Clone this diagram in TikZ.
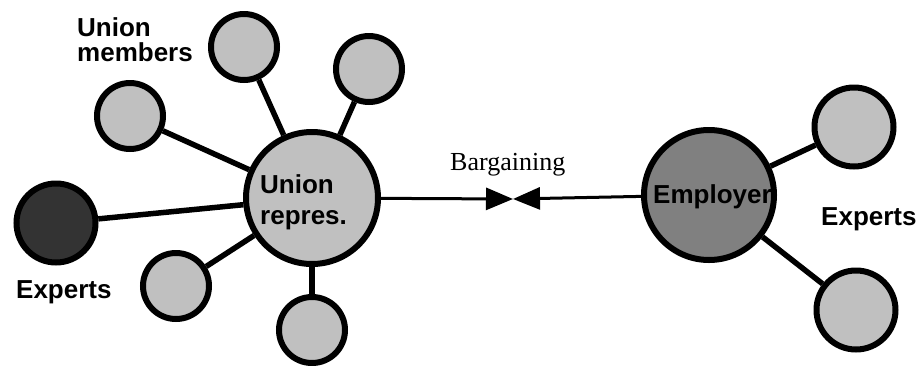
\documentclass[tikz,border=0pt]{standalone}
\usepackage{fontspec}
\setmainfont{Liberation Serif}
\newfontfamily\labelsans{Liberation Sans}
\usetikzlibrary{arrows.meta}

\definecolor{member}{HTML}{C0C0C0}
\definecolor{boss}{HTML}{808080}
\definecolor{advisor}{HTML}{333333}

\tikzset{
  x=1pt, y=-1pt,
  ball/.style={circle, draw=black, line width=6pt, inner sep=0pt},
  hub/.style={ball, fill=member, minimum size=132pt},
  boss/.style={ball, fill=boss, minimum size=130pt},
  leaf/.style={ball, fill=member, minimum size=66pt},
  bigleaf/.style={ball, fill=member, minimum size=79pt},
  advisor/.style={ball, fill=advisor, minimum size=79pt},
  link/.style={line width=5.5pt},
  deal/.style={line width=3pt, -{Triangle[length=27pt,width=22pt]}},
  lbl/.style={inner sep=0pt, font=\labelsans\bfseries\fontsize{26}{25}\selectfont, text=black},
  tag/.style={inner sep=0pt, font=\fontsize{26}{30}\selectfont}
}

\begin{document}
\begin{tikzpicture}
\useasboundingbox (0,0) rectangle (919,365);

% union side
\node[hub]     (union) at (312,198) {};
\node[leaf]    (m1)    at (130,116) {};
\node[leaf]    (m2)    at (244,47)  {};
\node[leaf]    (m3)    at (369,69)  {};
\node[leaf]    (m4)    at (176,286) {};
\node[leaf]    (m5)    at (312,330) {};
\node[advisor] (ux)    at (56,223)  {};

% employer side
\node[boss]    (emp)   at (709,195) {};
\node[bigleaf] (e1)    at (854,127) {};
\node[bigleaf] (e2)    at (856,310) {};

\foreach \n in {m1,m2,m3,m4,m5,ux}
  \draw[link] (union) -- (\n);
\draw[link] (emp) -- (e1);
\draw[link] (emp) -- (e2);

% bargaining link with bow-tie
\coordinate (bt) at (513,199);
\draw[deal] (union) -- (bt);
\draw[deal] (emp) -- (bt);

% labels
\node[lbl, anchor=north west, align=left] (umt) at (77,17) {Union\\members};
\node[lbl, anchor=north west, align=left, font=\labelsans\bfseries\fontsize{26}{31}\selectfont] (urt) at (260,174) {Union\\repres.};
\node[lbl, anchor=base west] (empt) at (653,203) {Employer};
\node[lbl, anchor=base west] (uxt) at (16,298) {Experts};
\node[lbl, anchor=base west] (ext) at (821,225) {Experts};
\node[tag, anchor=base west] (bgt) at (450,170) {Bargaining};
\end{tikzpicture}
\end{document}
